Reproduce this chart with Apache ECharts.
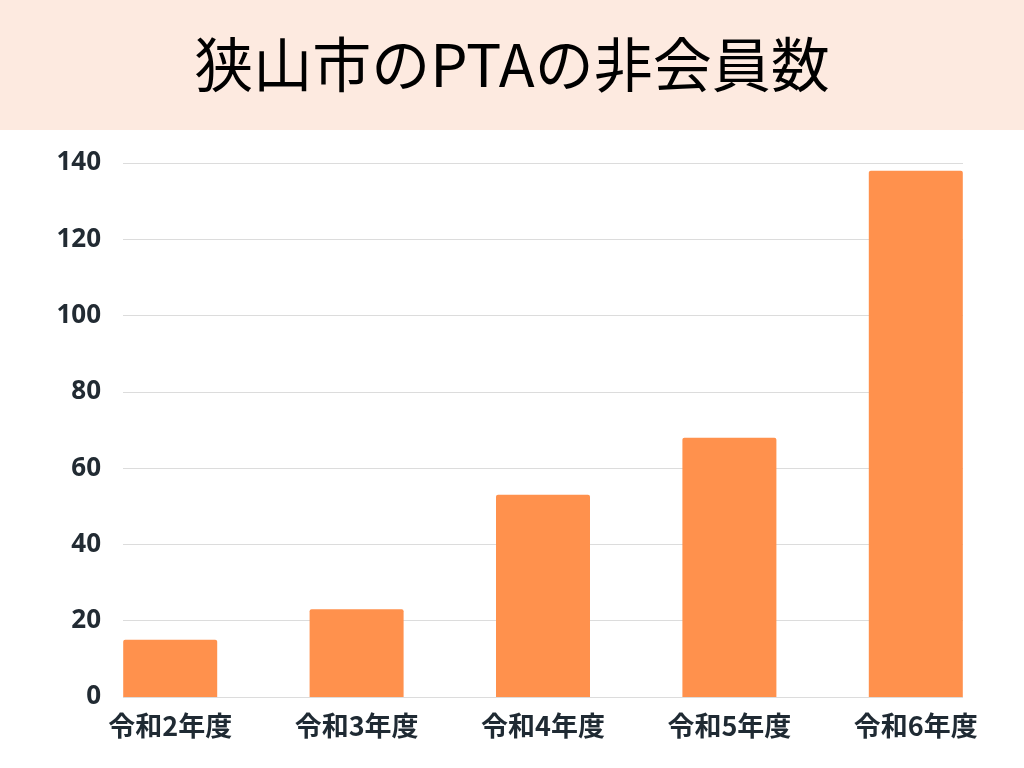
<!DOCTYPE html>
<html>
<head>
<meta charset="utf-8">
<style>
  html, body { margin: 0; padding: 0; background: #ffffff; }
  #chart { width: 1024px; height: 768px; }
</style>
<script src="https://cdn.jsdelivr.net/npm/echarts@6/dist/echarts.min.js"></script>
</head>
<body>
<div id="chart"></div>
<script>
// data
var titleText = '狭山市のPTAの非会員数';
var categories = ['令和2年度', '令和3年度', '令和4年度', '令和5年度', '令和6年度'];
var members = [15, 23, 53, 68, 138];
var yMin = 0;
var yMax = 140;
var yStep = 20;

var chart = echarts.init(document.getElementById('chart'), null, { renderer: 'canvas' });

var option = {
  backgroundColor: '#ffffff',
  animation: false,
  graphic: [{
    type: 'rect',
    left: 0,
    top: 0,
    z: -10,
    shape: { width: 1024, height: 130 },
    style: { fill: '#fdeae0' }
  }],
  title: {
    text: titleText,
    left: 'center',
    top: 30,
    textStyle: {
      fontFamily: 'Noto Sans CJK JP',
      fontWeight: 'normal',
      fontSize: 59,
      color: '#000000'
    }
  },
  grid: [
    // grid for the horizontal rules and y labels
    { left: 123, right: 61, top: 163, bottom: 71 },
    // grid for the bars (wider so the outer bars line up with the rules)
    { left: 77, right: 15, top: 163, bottom: 71 }
  ],
  xAxis: [
    {
      gridIndex: 0,
      type: 'category',
      data: categories,
      show: false
    },
    {
      gridIndex: 1,
      type: 'category',
      data: categories,
      axisLine: { show: false },
      axisTick: { show: false },
      axisLabel: {
        margin: 15,
        fontFamily: 'Noto Sans CJK JP',
        fontWeight: 'bold',
        fontSize: 27,
        color: '#1f2a33'
      }
    }
  ],
  yAxis: [
    {
      gridIndex: 0,
      type: 'value',
      min: yMin,
      max: yMax,
      interval: yStep,
      axisLine: { show: false },
      axisTick: { show: false },
      axisLabel: {
        margin: 22,
        fontFamily: 'Open Sans',
        fontWeight: 'bold',
        fontSize: 26,
        color: '#222b33'
      },
      splitLine: {
        lineStyle: { color: '#dcdcdc', width: 1 }
      }
    },
    {
      gridIndex: 1,
      type: 'value',
      min: yMin,
      max: yMax,
      interval: yStep,
      show: false,
      splitLine: { show: false }
    }
  ],
  series: [{
    type: 'bar',
    xAxisIndex: 1,
    yAxisIndex: 1,
    data: members,
    barWidth: 94,
    itemStyle: {
      color: '#ff914d',
      borderRadius: [2, 2, 0, 0]
    }
  }]
};

chart.setOption(option);
</script>
</body>
</html>
